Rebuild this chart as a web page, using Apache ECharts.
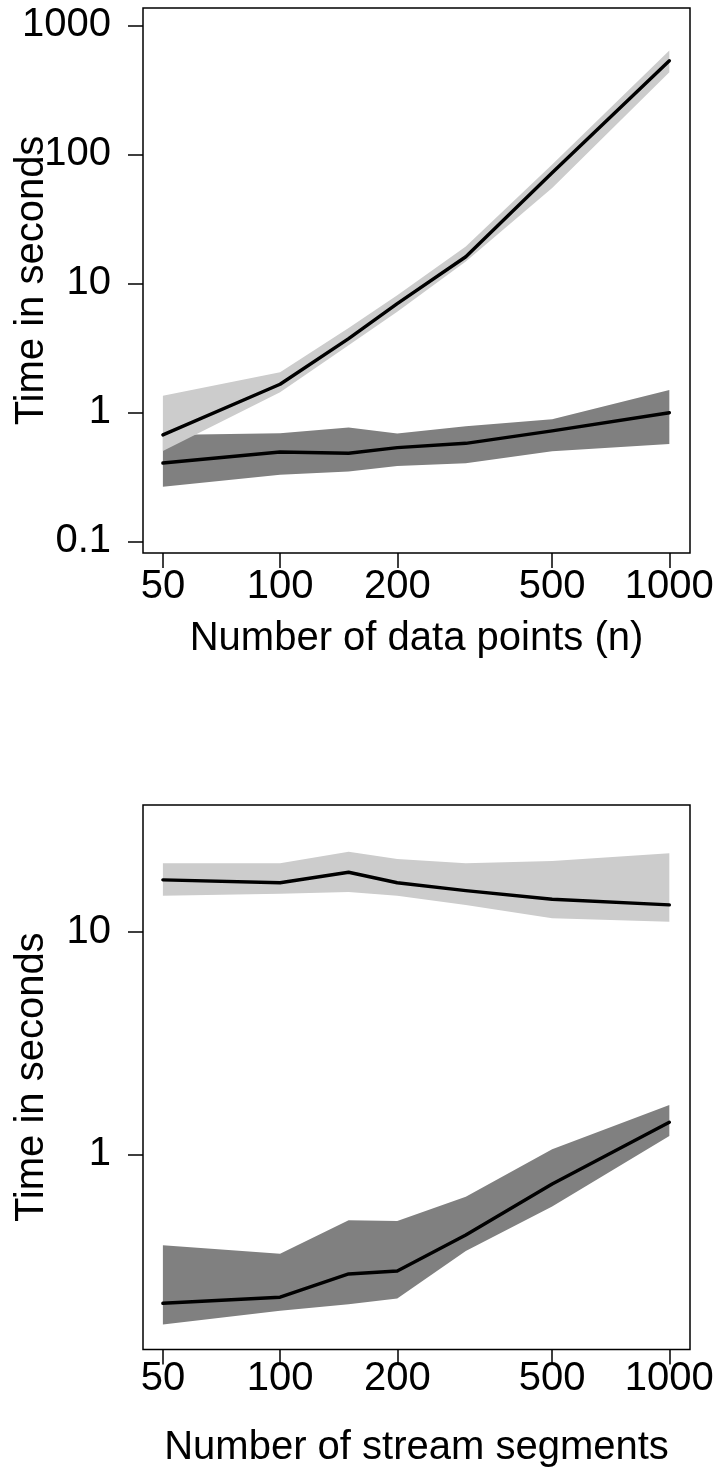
<!DOCTYPE html>
<html><head><meta charset="utf-8">
<script src="https://cdn.jsdelivr.net/npm/echarts@6/dist/echarts.min.js"></script>
<style>html,body{margin:0;padding:0;background:#fff}#c{width:716px;height:1475px}</style>
</head><body><div id="c"></div>
<script>
// ---- data ----
const xValues = [50, 100, 150, 200, 300, 500, 1000];
const xTicks = [50, 100, 200, 500, 1000];
const topYTicks = [0.1, 1, 10, 100, 1000];
const bottomYTicks = [1, 10];

// top panel: number of data points (n)
const topLightMedian = [0.669, 1.652, 3.73, 6.98, 16.1, 72, 533];
const topLightLower  = [0.502, 1.43, 3.31, 6.02, 14.8, 55, 433];
const topLightUpper  = [1.349, 2.05, 4.51, 8.11, 19.3, 83.6, 638];
const topDarkMedian  = [0.405, 0.493, 0.482, 0.533, 0.576, 0.719, 0.993];
const topDarkLower   = [0.265, 0.328, 0.349, 0.384, 0.403, 0.499, 0.569];
const topDarkUpper   = [0.669, 0.690, 0.764, 0.686, 0.782, 0.887, 1.49];

// bottom panel: number of stream segments
const botLightMedian = [17.1, 16.6, 18.5, 16.6, 15.3, 14.0, 13.2];
const botLightLower  = [14.5, 14.8, 15.1, 14.5, 13.2, 11.5, 11.1];
const botLightUpper  = [20.3, 20.3, 22.9, 21.2, 20.3, 20.8, 22.5];
const botDarkMedian  = [0.214, 0.228, 0.290, 0.299, 0.434, 0.736, 1.392];
const botDarkLower   = [0.172, 0.198, 0.212, 0.225, 0.368, 0.582, 1.208];
const botDarkUpper   = [0.390, 0.357, 0.505, 0.502, 0.645, 1.053, 1.665];

// ---- chart ----
const FONT = "'Liberation Sans', Arial, Helvetica, sans-serif";
const FS = 40;
const LIGHT = '#cccccc', DARK = '#808080';
function fmt(v) { return v >= 1 ? String(Math.round(v)) : String(+v.toPrecision(3)); }

function band(gi, lo, hi, color, z) {
  return {
    type: 'custom', xAxisIndex: gi, yAxisIndex: gi, z: z, silent: true,
    data: [[xValues[0], lo[0]]],
    renderItem: function (params, api) {
      const pts = [];
      for (let i = 0; i < xValues.length; i++) pts.push(api.coord([xValues[i], hi[i]]));
      for (let i = xValues.length - 1; i >= 0; i--) pts.push(api.coord([xValues[i], lo[i]]));
      return { type: 'polygon', shape: { points: pts }, style: { fill: color, stroke: null } };
    }
  };
}
function medLine(gi, vals, z) {
  return {
    type: 'line', xAxisIndex: gi, yAxisIndex: gi, z: z, silent: true,
    data: xValues.map((x, i) => [x, vals[i]]),
    symbol: 'none', lineStyle: { color: '#000', width: 3.4, cap: 'round', join: 'round' }
  };
}
function xAxis(gi, name, margin, gap) {
  return {
    type: 'log', logBase: 10, gridIndex: gi, min: 44.45, max: 1130,
    axisLine: { show: false }, splitLine: { show: false }, minorTick: { show: false },
    axisTick: { show: true, inside: false, length: 15, customValues: xTicks, lineStyle: { color: '#000', width: 1.5 } },
    axisLabel: { customValues: xTicks, margin: margin, fontSize: FS, fontFamily: FONT, color: '#000', formatter: fmt },
    name: name, nameLocation: 'middle', nameGap: gap, nameMoveOverlap: false,
    nameTextStyle: { fontSize: FS, fontFamily: FONT, color: '#000' }
  };
}
function yAxis(gi, min, max, ticks) {
  return {
    type: 'log', logBase: 10, gridIndex: gi, min: min, max: max,
    axisLine: { show: false }, splitLine: { show: false }, minorTick: { show: false },
    axisTick: { show: true, inside: false, length: 15, customValues: ticks, lineStyle: { color: '#000', width: 1.5 } },
    axisLabel: { customValues: ticks, margin: 32, fontSize: FS, fontFamily: FONT, color: '#000', formatter: fmt },
    name: 'Time in seconds', nameLocation: 'middle', nameGap: 91, nameRotate: 90, nameMoveOverlap: false,
    nameTextStyle: { fontSize: FS, fontFamily: FONT, color: '#000' }
  };
}

const chart = echarts.init(document.getElementById('c'), null, { renderer: 'canvas' });
chart.setOption({
  backgroundColor: '#fff',
  animation: false,
  grid: [
    { left: 143, width: 547, top: 8, height: 545, show: true, borderColor: '#000', borderWidth: 1.5, backgroundColor: 'transparent', outerBoundsMode: 'none', containLabel: false, z: 10 },
    { left: 143, width: 547, top: 805, height: 544.5, show: true, borderColor: '#000', borderWidth: 1.5, backgroundColor: 'transparent', outerBoundsMode: 'none', containLabel: false, z: 10 }
  ],
  xAxis: [
    xAxis(0, 'Number of data points (n)', 14, 66),
    xAxis(1, 'Number of stream segments', 9, 78)
  ],
  yAxis: [
    yAxis(0, 0.0813, 1365, topYTicks),
    yAxis(1, 0.1327, 37.1, bottomYTicks)
  ],
  series: [
    band(0, topDarkLower, topDarkUpper, DARK, 1),
    band(0, topLightLower, topLightUpper, LIGHT, 2),
    medLine(0, topDarkMedian, 3),
    medLine(0, topLightMedian, 3),
    band(1, botDarkLower, botDarkUpper, DARK, 1),
    band(1, botLightLower, botLightUpper, LIGHT, 2),
    medLine(1, botDarkMedian, 3),
    medLine(1, botLightMedian, 3)
  ]
});
</script>
</body></html>
